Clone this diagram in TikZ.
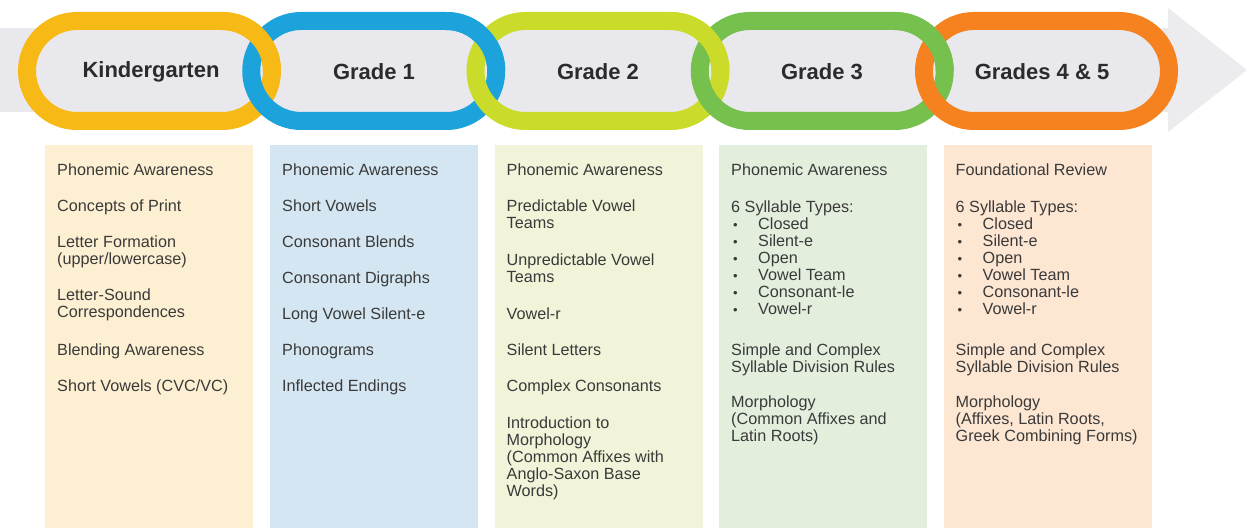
\documentclass[tikz,border=0pt]{standalone}
\usepackage{fontspec}
\setmainfont{Liberation Sans}
\definecolor{bandgray}{HTML}{E9E9ED}
\definecolor{arrowgray}{HTML}{ECECEF}
\definecolor{cK}{HTML}{F7B916}
\definecolor{cA}{HTML}{1CA3DC}
\definecolor{cB}{HTML}{CBDB2A}
\definecolor{cC}{HTML}{76C04E}
\definecolor{cD}{HTML}{F5821F}
\definecolor{bK}{HTML}{FDF0D2}
\definecolor{bA}{HTML}{D4E6F2}
\definecolor{bB}{HTML}{F1F4D9}
\definecolor{bC}{HTML}{E3EEDD}
\definecolor{bD}{HTML}{FDE6D2}
\definecolor{hdrtext}{HTML}{2B2B2B}
\definecolor{bodytext}{HTML}{3A3A3A}
\tikzset{
  ring/.style={line width=18pt},
  hdr/.style={font=\fontsize{22}{24}\selectfont\bfseries, text=hdrtext, inner sep=0},
  colbox/.style={inner sep=0, anchor=north west, minimum width=208pt, minimum height=383pt, draw=none},
  item/.style={font=\fontsize{16.2}{18}\selectfont, text=bodytext, anchor=mid west, inner sep=0},
  bul/.style={font=\fontsize{13}{13}\selectfont, text=bodytext, anchor=mid west, inner sep=0},
}
\begin{document}
\begin{tikzpicture}[x=1pt,y=1pt]
\useasboundingbox (0,0) rectangle (1250,-529);
% background arrow band
\fill[bandgray] (0,-28) -- (1168,-28) -- (1168,-112) -- (0,-112) -- cycle;
\fill[arrowgray] (1168,-8) -- (1247,-70) -- (1168,-132) -- cycle;
% chain rings
\foreach \i/\c in {0/cK,1/cA,2/cB,3/cC,4/cD}{
  \pgfmathsetmacro{\L}{18+224.25*\i}
  \pgfmathsetmacro{\ca}{\L+59}
  \pgfmathsetmacro{\cb}{\L+204}
  \draw[ring,\c] (\ca,-21) -- (\cb,-21) arc[start angle=90,end angle=-90,radius=50] -- (\ca,-121) arc[start angle=270,end angle=90,radius=50] -- cycle;
}
% upper crossings: left ring passes over
\foreach \i/\c in {0/cK,1/cA,2/cB,3/cC}{
  \pgfmathsetmacro{\L}{18+224.25*\i}
  \pgfmathsetmacro{\cb}{\L+204}
  \draw[ring,\c] (\cb+50,-71) arc[start angle=0,end angle=90,radius=50];
}
% headers
\node[hdr] (h0) at (151,-72) {Kindergarten};
\node[hdr] (h1) at (374,-72) {Grade 1};
\node[hdr] (h2) at (598,-72) {Grade 2};
\node[hdr] (h3) at (822,-72) {Grade 3};
\node[hdr] (h4) at (1042,-72) {Grades 4 \& 5};
% boxes
\node[colbox, fill=bK] (b0) at (45,-145) {};
\node[colbox, fill=bA] (b1) at (270,-145) {};
\node[colbox, fill=bB] (b2) at (494.5,-145) {};
\node[colbox, fill=bC] (b3) at (719,-145) {};
\node[colbox, fill=bD] (b4) at (943.5,-145) {};
% Kindergarten
\foreach \y/\t [count=\n] in {173/Phonemic Awareness, 209/Concepts of Print, 245/Letter Formation, 261.5/{(upper/lowercase)}, 298/Letter-Sound, 314.5/Correspondences, 353/Blending Awareness, 389/{Short Vowels (CVC/VC)}}
  \node[item] (k\n) at (57,-\y) {\t};
% Grade 1
\foreach \y/\t [count=\n] in {173/Phonemic Awareness, 209/Short Vowels, 245/Consonant Blends, 281/Consonant Digraphs, 317/Long Vowel Silent-e, 353/Phonograms, 389/Inflected Endings}
  \node[item] (ga\n) at (282,-\y) {\t};
% Grade 2
\foreach \y/\t [count=\n] in {173/Phonemic Awareness, 209/Predictable Vowel, 226/Teams, 263/Unpredictable Vowel, 280/Teams, 317/Vowel-r, 353/Silent Letters, 389/Complex Consonants, 426/Introduction to, 443/Morphology, 460/(Common Affixes with, 477/Anglo-Saxon Base, 494/Words)}
  \node[item] (gb\n) at (506.5,-\y) {\t};
% Grade 3
\foreach \y/\t [count=\n] in {173/Phonemic Awareness, 210/6 Syllable Types:, 353/Simple and Complex, 370/Syllable Division Rules, 405/Morphology, 422/(Common Affixes and, 439/Latin Roots)}
  \node[item] (gc\n) at (731,-\y) {\t};
\foreach \y/\t [count=\n] in {227/Closed, 244/Silent-e, 261/Open, 278/Vowel Team, 295/Consonant-le, 312/Vowel-r}{
  \node[bul] (gcd\n) at (733,-\y) {\textbullet};
  \node[item] (gcb\n) at (758,-\y) {\t};
}
% Grades 4 & 5
\foreach \y/\t [count=\n] in {173/Foundational Review, 210/6 Syllable Types:, 353/Simple and Complex, 370/Syllable Division Rules, 405/Morphology, 422/{(Affixes, Latin Roots,}, 439/Greek Combining Forms)}
  \node[item] (gd\n) at (955.5,-\y) {\t};
\foreach \y/\t [count=\n] in {227/Closed, 244/Silent-e, 261/Open, 278/Vowel Team, 295/Consonant-le, 312/Vowel-r}{
  \node[bul] (gdd\n) at (957.5,-\y) {\textbullet};
  \node[item] (gdb\n) at (982.5,-\y) {\t};
}
\end{tikzpicture}
\end{document}
